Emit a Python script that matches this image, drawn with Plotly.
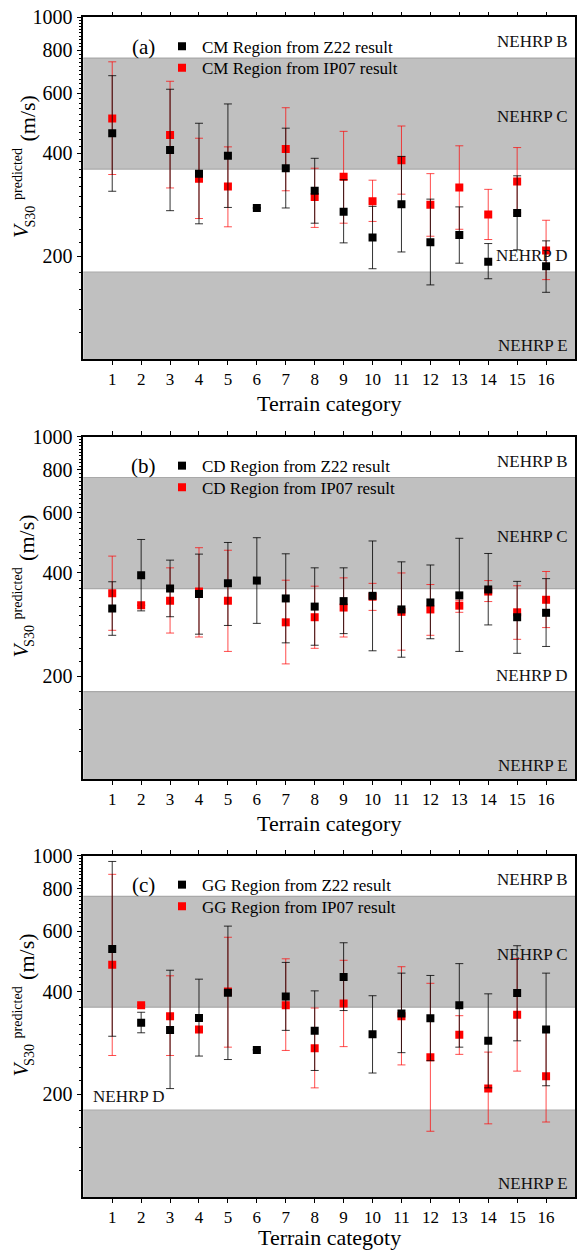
import plotly.graph_objects as go

W, H = 577, 1251

categories = list(range(1, 17))

# ---------- Panel (a): CM Region ----------
a_z22_val = [458, None, 409, 349, 394, 277, 362, 311, 270, 227, 284, 220, 231, 193, 268, 187]
a_z22_hi  = [675, None, 616, 490, 558, None, 474, 387, 335, 280, 392, 294, 279, 218, 344, 222]
a_z22_lo  = [310, None, 272, 249, 278, None, 277, 250, 219, 184, 206, 165, 191, 172, 209, 157]
a_ip07_val = [506, None, 453, 337, 320, None, 412, 298, 342, 290, 382, 283, 318, 265, 331, 208]
a_ip07_hi  = [741, None, 650, 443, 418, None, 544, 362, 464, 334, 481, 349, 421, 314, 416, 255]
a_ip07_lo  = [347, None, 317, 258, 244, None, 311, 243, 250, 253, 304, 229, 240, 224, 268, 171]

# ---------- Panel (b): CD Region ----------
b_z22_val = [315, 394, 360, 347, 373, 380, 337, 319, 331, 343, 313, 328, 344, 358, 297, 306]
b_z22_hi  = [377, 501, 436, 454, 491, 507, 455, 414, 414, 496, 431, 422, 505, 456, 378, 385]
b_z22_lo  = [263, 310, 298, 265, 281, 285, 250, 246, 266, 237, 227, 257, 236, 282, 233, 244]
b_ip07_val = [349, 322, 332, 353, 332, None, 287, 297, 317, 341, 308, 313, 321, 353, 307, 334]
b_ip07_hi  = [448, None, 414, 474, 466, None, 381, 366, 387, 373, 400, 370, 333, 380, 367, 404]
b_ip07_lo  = [272, None, 267, 260, 236, None, 217, 241, 260, 311, 238, 263, 307, 330, 256, 277]

# ---------- Panel (c): GG Region ----------
c_z22_val = [533, 324, 309, 335, 397, 270, 387, 307, 441, 300, 345, 334, 365, 287, 396, 310]
c_z22_hi  = [962, 348, 462, 435, 622, None, 487, 402, 556, 389, 453, 446, 483, 394, 545, 453]
c_z22_lo  = [296, 303, 208, 259, 253, None, 308, 235, 352, 231, 265, 251, 275, 209, 287, 212]
c_ip07_val = [479, 365, 339, 310, 400, None, 365, 273, 369, None, 339, 257, 299, 208, 342, 226]
c_ip07_hi  = [882, None, 445, None, 577, None, 499, 358, 494, None, 473, 423, 340, 266, 500, 310]
c_ip07_lo  = [260, None, 260, None, 275, None, 269, 209, 276, None, 244, 156, 262, 164, 234, 166]

panel_letters = ["(a)", "(b)", "(c)"]
region_names = ["CM", "CD", "GG"]
x_titles = ["Terrain category", "Terrain category", "Terrain categoty"]
nehrp_bounds = [100, 180, 360, 760, 1000]
nehrp_labels = ["NEHRP E", "NEHRP D", "NEHRP C", "NEHRP B"]

panels = [
    (a_z22_val, a_z22_hi, a_z22_lo, a_ip07_val, a_ip07_hi, a_ip07_lo),
    (b_z22_val, b_z22_hi, b_z22_lo, b_ip07_val, b_ip07_hi, b_ip07_lo),
    (c_z22_val, c_z22_hi, c_z22_lo, c_ip07_val, c_ip07_hi, c_ip07_lo),
]

# plot-area pixel boxes (top, bottom)
boxes = [(17.3, 359.3), (436.7, 779.1), (855.7, 1197.2)]
xtitle_offsets = [44, 44, 40]
x_left_px, x_right_px = 83.3, 575.0

def py(px):
    return 1 - px / H

def pxx(px):
    return px / W

FONT = "Liberation Serif, Times New Roman, serif"

def err(vals, hi, lo):
    plus, minus = [], []
    for v, h, l in zip(vals, hi, lo):
        plus.append(None if (v is None or h is None) else h - v)
        minus.append(None if (v is None or l is None) else v - l)
    return plus, minus

fig = go.Figure()
minor_vals = [v for v in range(120, 1000, 20) if v not in (200, 400, 600, 800)]

annotations = []
shapes = []
legend_layouts = {}
for i, (zv, zh, zl, iv, ih, il) in enumerate(panels):
    n = "" if i == 0 else str(i + 1)
    xa, ya = "x" + n, "y" + n
    top, bot = boxes[i]
    leg_z = "legend" if i == 0 else f"legend{2 * i + 1}"
    leg_i = f"legend{2 * i + 2}"

    rp, rm = err(iv, ih, il)
    fig.add_trace(go.Scatter(
        x=categories, y=iv, mode="markers", xaxis=xa, yaxis=ya, legend=leg_i,
        name=f"{region_names[i]} Region from IP07 result",
        marker=dict(symbol="square", size=8, color="#ff0000"),
        error_y=dict(type="data", symmetric=False, array=rp, arrayminus=rm,
                     color="rgba(255,0,0,0.7)", thickness=1, width=4),
    ))
    bp, bm = err(zv, zh, zl)
    fig.add_trace(go.Scatter(
        x=categories, y=zv, mode="markers", xaxis=xa, yaxis=ya, legend=leg_z,
        name=f"{region_names[i]} Region from Z22 result",
        marker=dict(symbol="square", size=8, color="#000000"),
        error_y=dict(type="data", symmetric=False, array=bp, arrayminus=bm,
                     color="rgba(0,0,0,0.8)", thickness=1, width=4),
    ))

    for lg, row_px in ((leg_z, top + 29.4), (leg_i, top + 51.0)):
        legend_layouts[lg] = dict(x=pxx(162), y=py(row_px), xanchor="left", yanchor="middle",
                                  bgcolor="rgba(0,0,0,0)", borderwidth=0,
                                  font=dict(family=FONT, size=17, color="black"))

    axis_common = dict(showline=True, linecolor="black", linewidth=1.5, mirror="allticks",
                       ticks="outside", tickcolor="black", showgrid=False, zeroline=False,
                       automargin=False)
    fig.update_layout(**{
        ("xaxis" + n): dict(domain=[pxx(x_left_px), pxx(x_right_px)], anchor=ya,
                            range=[0, 17], tickvals=categories, ticklen=4, tickwidth=1,
                            tickfont=dict(family=FONT, size=17, color="black"),
                            **axis_common),
        ("yaxis" + n): dict(domain=[py(bot), py(top)], anchor=xa, type="log",
                            range=[2, 3], tickvals=[200, 400, 600, 800, 1000],
                            ticktext=["200", "400", "600", "800", "1000"],
                            ticklen=5, tickwidth=1,
                            tickfont=dict(family=FONT, size=20, color="black"),
                            minor=dict(tickvals=minor_vals, ticks="outside", ticklen=3,
                                       tickcolor="black", tickwidth=1, showgrid=False),
                            **axis_common),
    })

    # NEHRP shading bands
    fills = ["#c0c0c0", "white", "#c0c0c0", "white"]
    for k in range(4):
        shapes.append(dict(type="rect", xref=xa + " domain", yref=ya,
                           x0=0, x1=1, y0=nehrp_bounds[k], y1=nehrp_bounds[k + 1],
                           fillcolor=fills[k], line=dict(width=0), layer="below"))
    for b in nehrp_bounds[1:4]:
        shapes.append(dict(type="line", xref=xa + " domain", yref=ya,
                           x0=0, x1=1, y0=b, y1=b,
                           line=dict(color="#a9a9a9", width=1.2), layer="below"))

    # NEHRP labels (log10 positions)
    lab_pos = [2.041, 2.303, 2.71, 2.929]
    for k, lab in enumerate(nehrp_labels):
        if i == 2 and lab == "NEHRP D":
            annotations.append(dict(text=lab, xref=xa + " domain", yref=ya,
                                    x=0.015, y=2.294, xanchor="left", yanchor="middle",
                                    showarrow=False, font=dict(family=FONT, size=17, color="#111")))
        else:
            annotations.append(dict(text=lab, xref=xa + " domain", yref=ya,
                                    x=0.99, y=lab_pos[k], xanchor="right", yanchor="middle",
                                    showarrow=False, font=dict(family=FONT, size=17, color="#111")))

    # panel letter
    annotations.append(dict(text=panel_letters[i], xref="paper", yref="paper",
                            x=pxx(143), y=py(top + 29.4), xanchor="center", yanchor="middle",
                            showarrow=False, font=dict(family=FONT, size=21, color="black")))
    # x axis title
    annotations.append(dict(text=x_titles[i], xref="paper", yref="paper",
                            x=pxx((x_left_px + x_right_px) / 2), y=py(bot + xtitle_offsets[i]),
                            xanchor="center", yanchor="middle", showarrow=False,
                            font=dict(family=FONT, size=22, color="black")))
    # y axis title pieces (rotated)
    ytitle = [("<i>V</i>", 21, 231 - 17.3, 21),
              ("S30", 29.5, 217 - 17.3, 14),
              ("predicted", 17, 174 - 17.3, 14),
              ("(m/s)", 27, 118.5 - 17.3, 22)]
    for txt, xpx, dy, fs in ytitle:
        annotations.append(dict(text=txt, xref="paper", yref="paper", textangle=-90,
                                x=pxx(xpx), y=py(top + dy), xanchor="center", yanchor="middle",
                                showarrow=False, font=dict(family=FONT, size=fs, color="black")))

fig.update_layout(
    width=W, height=H, margin=dict(l=0, r=0, t=0, b=0, autoexpand=False),
    paper_bgcolor="white", plot_bgcolor="white",
    shapes=shapes, annotations=annotations, showlegend=True,
    **legend_layouts,
)

fig.write_html("out.html", config={"displayModeBar": False},
               post_script="document.body.style.margin='0';document.body.style.overflow='hidden';")
